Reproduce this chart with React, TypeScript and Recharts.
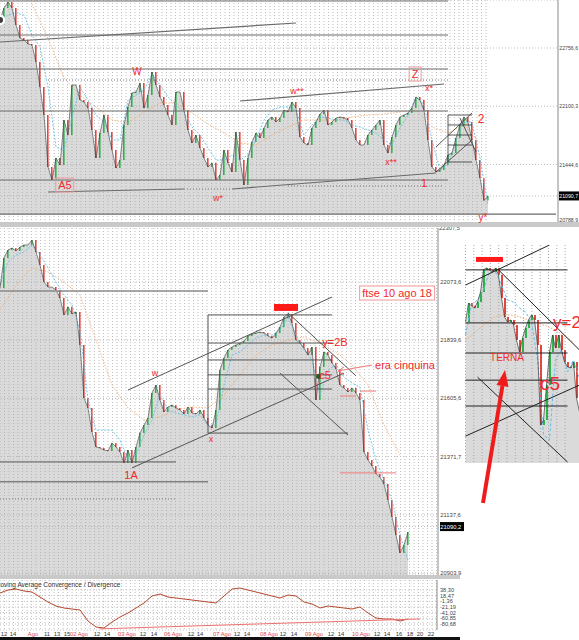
import React from "react";
import {
  ComposedChart, Area, Bar, Line, XAxis, YAxis, CartesianGrid,
  ReferenceLine, ReferenceArea, Cell,
} from "recharts";

// top panel (wider history), one close every slot
const topClose = [
  23072, 23207, 23274, 23207, 23015, 22869, 22847, 22802, 22790, 22599,
  22317, 22002, 21417, 21270, 21518, 21439, 21946, 21777, 22340, 22340,
  22171, 22148, 22081, 21833, 21518, 21799, 22002, 21811, 21608, 21405,
  21495, 21890, 22092, 22250, 22261, 22362, 22081, 22227, 22486, 22340,
  22205, 22115, 22002, 21890, 22261, 22261, 22058, 21833, 21687, 21777,
  21631, 21518, 21417, 21462, 21270, 21327, 21608, 21462, 21360, 21811,
  21495, 21214, 21518, 21698, 21799, 21743, 21856, 21946, 21980, 21923,
  21968, 22058, 22036, 22148, 22081, 21754, 21687, 21664, 21856, 21923,
  22013, 22058, 21890, 21923, 21968, 21980, 21968, 21946, 21856, 21721,
  21664, 21664, 21777, 21833, 21890, 21946, 21664, 21574, 21754, 21890,
  21980, 22002, 22025, 22081, 22205, 22171, 22058, 21721, 21417, 21360,
  21383, 21439, 21552, 21574, 21743, 21890, 21980, 21923, 21721, 21495,
  21293, 21040, 21090,
];
// dotted channel, every 2 slots
const topCyan = [
  23072, 23128, 23151, 23128, 22903, 22768, 22317, 21642, 21608, 21968,
  22317, 22171, 22002, 21923, 21721, 21721, 22171, 22227, 22284, 22464,
  22340, 22205, 22115, 22036, 21867, 21777, 21631, 21495, 21495, 21552,
  21495, 21552, 21721, 21946, 22058, 22092, 22092, 22058, 21777, 21890,
  21980, 21968, 21946, 21946, 21890, 21867, 21833, 21799, 21721, 21664,
  21856, 22002, 22205, 22115, 21721, 21383, 21439, 21721, 21923, 21923,
  21518, 20989,
];
// moving average, every 4 slots
const topMA = [
  null, null, 23250, 22869, 22419, 22227, 22092, 21946, 21912, 22036,
  22137, 22137, 22025, 21901, 21799, 21687, 21664, 21777, 21867, 21946,
  21946, 21946, 21980, 22002, 22013, 22036, 22058, 21867, 21799, 21890,
  21687,
];
const topTicks = [22756.6, 22100.3, 21444.6, 20788.9];
const topLast = 21090.7;

// middle panel: ftse 10 ago 18
const midClose = [
  22049, 22170, 22202, 22210, 22198, 22214, 22222, 22222, 22242, 22194,
  22142, 22073, 22053, 22053, 22041, 22009, 21941, 21973, 21945, 21953,
  21820, 21607, 21567, 21470, 21410, 21406, 21398, 21394, 21426, 21410,
  21390, 21346, 21398, 21346, 21410, 21466, 21498, 21527, 21627, 21659,
  21599, 21551, 21571, 21579, 21567, 21559, 21543, 21571, 21547, 21543,
  21559, 21527, 21498, 21486, 21559, 21720, 21768, 21800, 21812, 21820,
  21828, 21836, 21856, 21864, 21868, 21872, 21868, 21856, 21848, 21868,
  21892, 21933, 21945, 21909, 21840, 21828, 21808, 21780, 21812, 21599,
  21732, 21792, 21780, 21748, 21724, 21659, 21647, 21631, 21647, 21627,
  21599, 21390, 21358, 21334, 21302, 21289, 21261, 21197, 21129, 21056,
  20984, 21016, 21068,
];
const midCyan = [
  22061, 22154, 22182, 22194, 22222, 22182, 22130, 22073, 22021, 21981,
  21880, 21599, 21478, 21478, 21478, 21438, 21358, 21378, 21458, 21519,
  21619, 21559, 21547, 21539, 21531, 21539, 21498, 21498, 21659, 21780,
  21792, 21820, 21848, 21860, 21860, 21880, 21929, 21860, 21800, 21760,
  21619, 21720, 21740, 21691, 21667, 21651, 21478, 21358, 21277, 21197,
  21056, 20956,
];
const midMA = [
  21961, 22061, 22130, 22114, 22073, 22021, 21840, 21659, 21567, 21519,
  21531, 21559, 21571, 21567, 21619, 21700, 21780, 21820, 21840, 21852,
  21828, 21792, 21740, 21659, 21499, 21378,
];
const midTicks = [22073.6, 21839.6, 21605.6, 21371.7, 21137.6, 20903.9];
const midLast = 21090.2;
const midTopLabel = 22307.5;

// pasted TERNA detail
const insetClose = [
  21913, 21989, 21977, 21969, 21993, 22033, 22122, 22130, 22122, 22114,
  22130, 22102, 22009, 21933, 21913, 21921, 21901, 21840, 21792, 21848,
  21888, 21921, 21941, 21921, 21820, 21499, 21519, 21659, 21792, 21860,
  21808, 21860, 21800, 21752, 21732, 21728, 21752, 21607, 21551,
];
const insetCyan = [
  21860, 21981, 22001, 22041, 22114, 22114, 22061, 22001, 21993, 21969,
  21953, 21913, 21760, 21458, 21438, 21760, 21800, 21712, 21760, 21687,
];
const insetMA = [
  21840, 21868, 21901, 21929, 21941, 21941, 21933, 21921, 21909, 21896,
  21880, 21856, 21832,
];

// MACD, every 2 slots of the middle panel
const macdValues = [
  27.8, 38.3, 41.8, 34.8, 31.3, 13.8, -3.7, -17.7, -24.7, -28.2,
  -31.7, -70.2, -91.2, -94.7, -73.7, -56.2, -42.2, -24.7, -7.2, 17.3,
  24.3, 13.8, 10.3, 6.8, 3.3, -0.2, -3.7, -7.2, 17.3, 41.8,
  45.3, 38.3, 31.3, 24.3, 17.3, 10.3, 20.8, 17.3, -3.7, -10.7,
  -24.7, -17.7, -21.2, -24.7, -28.2, -21.2, -42.2, -59.7, -63.2, -63.2,
  -70.2, -63.2,
];
const macdTicks = [38.3, 18.47, -1.36, -21.19, -41.02, -60.85, -80.68];
const timeTickPos = [
  1, 3.25, 8.25, 11.75, 14.25, 16.75, 19.75, 24.25, 26.75, 31.75, 35.75,
  38.5, 43.25, 47.75, 50, 55.5, 59.25, 61.75, 67.25, 70.75, 73.5, 78.5,
  82.75, 85.25, 90.25, 94.25, 96.75, 99.75, 102.5, 105, 107.75,
];
const timeTickText = [
  "12", "14", "Ago", "11", "13", "15", "02 Ago", "12", "14", "03 Ago", "12",
  "14", "06 Ago", "12", "14", "07 Ago", "12", "14", "08 Ago", "12", "14", "09 Ago",
  "12", "14", "10 Ago", "12", "14", "16", "18", "20", "22",
];

// hand drawn lines [slot1, price1, slot2, price2]
const topLines = [
  [0, 23286, 112, 23286], [0, 22903, 112, 22903], [0, 22824, 74, 23038],
  [0, 22520, 112, 22520], [0, 22047, 112, 22047], [60, 22160, 111, 22351],
  [0, 21270, 112, 21270], [12, 21135, 46, 21169], [58, 21169, 109, 21349],
  [0, 20887, 139, 20887],
];
const topDotted = [[12, 22396, 112, 22396], [46, 21169, 58, 21169], [72, 21203, 111, 21203]];
const topFlag = [
  [112, 22002, 118, 22002], [112, 21890, 118, 21890], [112, 21777, 118, 21777],
  [112, 21664, 118, 21664], [112, 21473, 118, 21473], [112, 22002, 112, 21473],
  [109, 21642, 118, 22025], [109, 21360, 118, 21721], [115, 21968, 119, 21585],
];
const midLines = [
  [52, 21941, 52, 21466], [52, 21941, 83, 21941], [52, 21828, 83, 21828],
  [52, 21760, 83, 21760], [52, 21700, 83, 21700], [52, 21643, 83, 21643],
  [52, 21466, 87, 21466], [32, 21639, 83, 22013], [33, 21326, 86, 21707],
  [72, 21949, 89, 21696], [70, 21707, 87, 21458], [0, 21350, 44, 21350],
  [0, 21270, 52, 21270],
];
const midPink = [[85, 21306, 99, 21306], [85, 21615, 89, 21615], [90, 21635, 94, 21635]];
const insetLines = [
  [0, 22122, 34, 22122], [0, 21909, 34, 21909], [0, 21788, 34, 21788],
  [0, 21679, 34, 21679], [0, 21575, 34, 21575], [0, 22061, 28, 22222],
  [11, 22122, 38, 21800], [0, 21454, 38, 21659], [4, 21691, 34, 21350],
];

const GREEN = "#2cb34c";
const RED = "#e2463f";
const CYAN = "#5fc1e8";
const ORANGE = "#f2ae74";
const ANNOT = "#f02a2a";
const FONT = "'Liberation Sans', Arial, sans-serif";

function buildRows(close: number[], cyan: number[], cyanStep: number, ma: (number | null)[], maStep: number, slots: number) {
  const rows: any[] = [];
  for (let i = 0; i < slots; i++) {
    const c = i < close.length ? close[i] : null;
    const o = c == null ? null : i > 0 ? close[i - 1] : c;
    rows.push({
      i,
      close: c,
      body: c == null || o == null ? null : [Math.min(o, c), Math.max(o, c)],
      up: c != null && o != null && c >= o,
      cyan: i % cyanStep === 0 && i / cyanStep < cyan.length ? cyan[i / cyanStep] : null,
      ma: i % maStep === 0 && i / maStep < ma.length ? ma[i / maStep] : null,
    });
  }
  return rows;
}

const topRows = buildRows(topClose, topCyan, 2, topMA, 4, 140);
const midRows = buildRows(midClose, midCyan, 2, midMA, 4, 110);
const insetRows = buildRows(insetClose, insetCyan, 2, insetMA, 3, 43);
const macdRows = macdValues.map((v, k) => ({ t: k * 2, v }));

const gridXs = (from: number, to: number, step: number) => {
  const a: number[] = [];
  for (let x = from; x <= to; x += step) a.push(x);
  return a;
};

const drawSegs = (key: string, list: number[][], stroke: string, width: number, dash?: string) =>
  list.map((s, k) => (
    <ReferenceLine
      key={key + k}
      segment={[{ x: s[0], y: s[1] }, { x: s[2], y: s[3] }]}
      stroke={stroke}
      strokeWidth={width}
      strokeDasharray={dash}
      ifOverflow="visible"
    />
  ));

const priceTick = (last: number, nudge: number, size: number) => (props: any) => {
  const { x, y, payload } = props;
  const v = payload.value;
  const txt = v.toFixed(1).replace(".", ",");
  if (v === last) {
    return (
      <g>
        <rect x={x} y={y - 4.5} width={30} height={9} fill="#000" />
        <text x={x + 0.3} y={y + 2} fontSize={size} fill="#fff" fontFamily={FONT}>{txt}</text>
      </g>
    );
  }
  const yy = v === nudge ? y - 3 : y;
  return <text x={x + 0.3} y={yy + 2} fontSize={size} fill="#444" fontFamily={FONT}>{txt}</text>;
};

const macdTick = (props: any) => {
  const { x, y, payload } = props;
  return (
    <text x={x + 1} y={y + 2} fontSize={5.6} fill="#444" fontFamily={FONT}>
      {payload.value.toFixed(2).replace(".", ",")}
    </text>
  );
};

const timeTick = (props: any) => {
  const { x, y, payload } = props;
  const label = timeTickText[timeTickPos.indexOf(payload.value)] || "";
  return (
    <text x={x} y={y + 5} textAnchor="middle" fontSize={5.8} fill={label.includes("Ago") ? "#e04848" : "#333"} fontFamily={FONT}>
      {label}
    </text>
  );
};

const Txt = ({ x, y, size, children, color = ANNOT, box = false, bg, left = false }: any) => (
  <div
    style={{
      position: "absolute", left: x, top: y,
      transform: left ? "translate(0,-50%)" : "translate(-50%,-50%)",
      fontSize: size, color, fontFamily: FONT, lineHeight: 1, whiteSpace: "nowrap",
      border: box ? "1px solid #f29a9a" : undefined,
      padding: box ? "1px 2px" : 0, background: bg,
    }}
  >
    {children}
  </div>
);

const zero = { top: 0, right: 0, bottom: 0, left: 0 };

export default function App() {
  const candles = (rows: any[]) =>
    rows.map((r, k) => <Cell key={k} fill={r.up ? GREEN : RED} />);

  return (
    <div style={{ position: "absolute", left: 0, top: 0, width: 579, height: 640, overflow: "hidden", background: "#fff", fontFamily: FONT }}>
      {/* top panel */}
      <div style={{ position: "absolute", left: -2, top: 0 }}>
        <ComposedChart width={582} height={223} data={topRows} margin={zero}>
          <CartesianGrid stroke="#bdbdbd" strokeDasharray="1 2" verticalPoints={gridXs(2, 492, 4.5)} />
          <XAxis dataKey="i" type="category" hide />
          <YAxis orientation="right" width={22} type="number" domain={[20786, 23297]} allowDataOverflow
            ticks={[...topTicks, topLast]} interval={0} tick={priceTick(topLast, 20788.9, 5.2)}
            tickSize={0} tickMargin={1} tickLine={false} axisLine={{ stroke: "#8a8a8a" }} />
          <Area dataKey="close" type="linear" stroke="none" fill="#a8a8a8" fillOpacity={0.42} baseValue={20887} isAnimationActive={false} />
          <Line dataKey="ma" stroke={ORANGE} strokeWidth={0.9} strokeDasharray="1.5 1.5" dot={false} connectNulls isAnimationActive={false} />
          <Line dataKey="cyan" stroke={CYAN} strokeWidth={0.9} strokeDasharray="2 1.5" dot={false} connectNulls isAnimationActive={false} />
          <Line dataKey="close" stroke="#3c3c3c" strokeWidth={0.6} dot={false} isAnimationActive={false} />
          <Bar dataKey="body" barSize={1.6} isAnimationActive={false}>{candles(topRows)}</Bar>
          {drawSegs("tl", topLines, "#6a6a6a", 1.2)}
          {drawSegs("td", topDotted, "#777", 1, "1 2")}
          {drawSegs("tf", topFlag, "#333", 0.8)}
        </ComposedChart>
      </div>

      {/* middle panel */}
      <div style={{ position: "absolute", left: -2, top: 228 }}>
        <ComposedChart width={466} height={347} data={midRows} margin={zero}>
          <CartesianGrid stroke="#bdbdbd" strokeDasharray="1 2" verticalPoints={gridXs(2, 439, 4.5)} />
          <XAxis dataKey="i" type="category" hide />
          <YAxis orientation="right" width={26} type="number" domain={[20895.5, 22290.4]} allowDataOverflow
            ticks={[...midTicks, midLast]} interval={0} tick={priceTick(midLast, -1, 5.8)}
            tickSize={0} tickMargin={2} tickLine={false} axisLine={{ stroke: "#8a8a8a" }} />
          <Area dataKey="close" type="linear" stroke="none" fill="#a8a8a8" fillOpacity={0.42} baseValue={20895.5} isAnimationActive={false} />
          <Line dataKey="ma" stroke={ORANGE} strokeWidth={0.9} strokeDasharray="1.5 1.5" dot={false} connectNulls isAnimationActive={false} />
          <Line dataKey="cyan" stroke={CYAN} strokeWidth={0.9} strokeDasharray="2 1.5" dot={false} connectNulls isAnimationActive={false} />
          <Line dataKey="close" stroke="#3c3c3c" strokeWidth={0.6} dot={false} isAnimationActive={false} />
          <Bar dataKey="body" barSize={1.6} isAnimationActive={false}>{candles(midRows)}</Bar>
          {drawSegs("mg", [[0, 22037, 52, 22037]], "#8a8a8a", 1.6)}
          {drawSegs("ml", midLines, "#555", 1)}
          {drawSegs("md", [[0, 21201, 44, 21201]], "#777", 1, "1 2")}
          {drawSegs("mp", midPink, "#f07a7a", 1)}
          <ReferenceArea x1={69} x2={74} y1={21957} y2={21985} fill="#ff1a1a" fillOpacity={1} stroke="none" ifOverflow="visible" />
        </ComposedChart>
      </div>
      <div style={{ position: "absolute", left: 439, top: 226, fontSize: 5.8, color: "#444", fontFamily: FONT, lineHeight: 1 }}>
        {midTopLabel.toFixed(1).replace(".", ",")}
      </div>

      {/* MACD panel */}
      <div style={{ position: "absolute", left: 0, top: 580 }}>
        <ComposedChart width={463} height={60} data={macdRows} margin={zero}>
          <CartesianGrid stroke="#c2c2c2" strokeDasharray="1 2" verticalPoints={gridXs(0, 437, 4.5)} />
          <XAxis dataKey="t" type="number" domain={[0, 109.25]} allowDataOverflow ticks={timeTickPos} interval={0}
            tick={timeTick} height={10} tickSize={0} tickMargin={1} tickLine={false} axisLine={false} />
          <YAxis orientation="right" width={26} type="number" domain={[-101.7, 73.3]} allowDataOverflow
            ticks={macdTicks} interval={0} tick={macdTick} tickSize={0} tickMargin={2} tickLine={false} axisLine={{ stroke: "#8a8a8a" }} />
          <Line dataKey="v" stroke="#b5472c" strokeWidth={1} dot={false} isAnimationActive={false} />
          <ReferenceLine segment={[{ x: 25, y: -97.7 }, { x: 105, y: -63 }]} stroke="#f07070" strokeWidth={1} ifOverflow="visible" />
        </ComposedChart>
      </div>

      {/* pasted TERNA inset */}
      <div style={{ position: "absolute", left: 463.5, top: 245, background: "#fff" }}>
        <ComposedChart width={129} height={218} data={insetRows} margin={zero}>
          <CartesianGrid stroke="#a8a8a8" strokeDasharray="1 2" horizontal={false} verticalPoints={gridXs(1.5, 104, 8.3)} />
          <XAxis dataKey="i" type="category" hide />
          <YAxis hide type="number" domain={[21346, 22222]} allowDataOverflow />
          <Area dataKey="close" type="linear" stroke="none" fill="#a8a8a8" fillOpacity={0.42} baseValue={21346} isAnimationActive={false} />
          <Line dataKey="ma" stroke={ORANGE} strokeWidth={1} strokeDasharray="1.5 1.5" dot={false} connectNulls isAnimationActive={false} />
          <Line dataKey="cyan" stroke={CYAN} strokeWidth={1} strokeDasharray="3 2" dot={false} connectNulls isAnimationActive={false} />
          <Line dataKey="close" stroke="#3c3c3c" strokeWidth={0.7} dot={false} isAnimationActive={false} />
          <Bar dataKey="body" barSize={2} isAnimationActive={false}>{candles(insetRows)}</Bar>
          {drawSegs("il", insetLines, "#222", 1)}
          <ReferenceArea x1={4} x2={12} y1={22154} y2={22174} fill="#ff1a1a" fillOpacity={1} stroke="none" ifOverflow="visible" />
        </ComposedChart>
      </div>

      {/* separators */}
      <div style={{ position: "absolute", left: 0, top: 222, width: 579, height: 5, background: "#c9c9c9" }} />
      <div style={{ position: "absolute", left: 0, top: 575, width: 460, height: 4, background: "#c9c9c9" }} />
      <div style={{ position: "absolute", left: 0, top: 637, width: 460, height: 3, background: "#111" }} />
      <div style={{ position: "absolute", left: -5, top: 581, fontSize: 6.5, color: "#333", fontFamily: FONT, whiteSpace: "nowrap" }}>
        Moving Average Convergence / Divergence
      </div>

      {/* top labels */}
      <Txt x={65} y={184.5} size={11} box>A5</Txt>
      <Txt x={137} y={72} size={10}>W</Txt>
      <Txt x={218} y={198} size={9}>w*</Txt>
      <Txt x={297} y={91} size={9}>w**</Txt>
      <Txt x={415} y={74} size={11} box>Z</Txt>
      <Txt x={429} y={88} size={9}>x*</Txt>
      <Txt x={391} y={162} size={9}>x**</Txt>
      <Txt x={424} y={183} size={11}>1</Txt>
      <Txt x={481} y={119} size={12}>2</Txt>
      <Txt x={483} y={218} size={10}>y*</Txt>

      {/* middle labels */}
      <Txt x={155} y={373} size={9}>w</Txt>
      <Txt x={131} y={475} size={11}>1A</Txt>
      <Txt x={211} y={439} size={9}>x</Txt>
      <Txt x={335} y={342} size={11}>y=2B</Txt>
      <div style={{ position: "absolute", left: 315.5, top: 373.5, width: 5, height: 5, borderRadius: 3, background: "#2a5a2a" }} />
      <Txt x={325} y={375} size={11}>c5</Txt>
      <Txt x={405} y={365} size={11}>era cinquina</Txt>
      <Txt x={397} y={292.5} size={11} box bg="#fff">ftse 10 ago 18</Txt>

      {/* inset labels */}
      <Txt x={507} y={358} size={10}>TERNA</Txt>
      <Txt x={553} y={322} size={17} left>y=2</Txt>
      <Txt x={540} y={383} size={19} left>c5</Txt>

      <svg width={579} height={640} style={{ position: "absolute", left: 0, top: 0, pointerEvents: "none" }}>
        <line x1={372} y1={365} x2={338} y2={371} stroke="#f07a7a" strokeWidth={1} />
        <polyline points="344,367 338,371 344,375" fill="none" stroke="#f07a7a" strokeWidth={1} />
        <line x1={483} y1={503} x2={502.4} y2={386} stroke="#f01c1c" strokeWidth={4} />
        <polygon points="505,370 508.5,387 496.5,385" fill="#f01c1c" />
      </svg>
    </div>
  );
}
